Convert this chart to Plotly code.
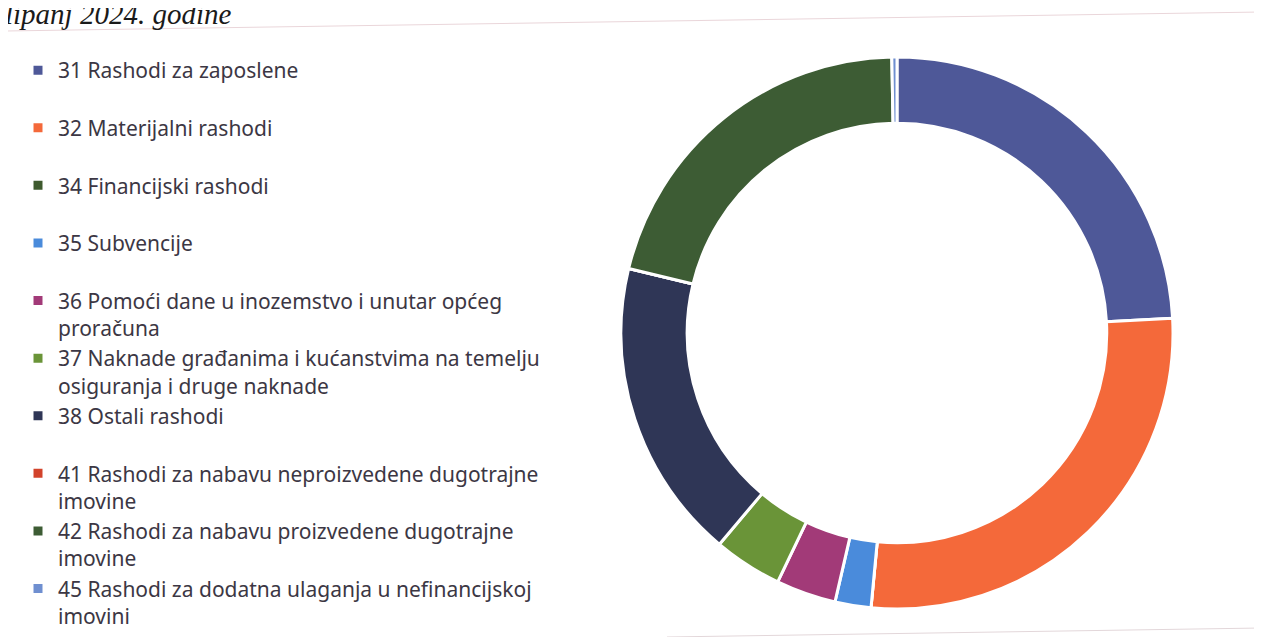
import plotly.graph_objects as go

W, H = 1262, 637
OFF = 8  # page body margin in front of the figure
FONT_COLOR = "#3C3744"

labels = [
    "31 Rashodi za zaposlene",
    "32 Materijalni rashodi",
    "34 Financijski rashodi",
    "35 Subvencije",
    "36 Pomoći dane u inozemstvo i unutar općeg<br>proračuna",
    "37 Naknade građanima i kućanstvima na temelju<br>osiguranja i druge naknade",
    "38 Ostali rashodi",
    "41 Rashodi za nabavu neproizvedene dugotrajne<br>imovine",
    "42 Rashodi za nabavu proizvedene dugotrajne<br>imovine",
    "45 Rashodi za dodatna ulaganja u nefinancijskoj<br>imovini",
]
shares = [24.1, 27.3, 0.0, 2.1, 3.5, 4.0, 17.6, 0.0, 20.9, 0.3]
colors = ["#4E5898", "#F4693A", "#3E5A2E", "#4A8BDB", "#A23A78",
          "#6A9438", "#2F3656", "#D2432B", "#3D5C34", "#6F8FD0"]

# single-line entries get an empty second line so every legend slot is equal
legend_labels = [l if "<br>" in l else l + "<br> " for l in labels]


def px_x(v):
    # page pixel -> paper fraction
    return (v - OFF) / W


def px_y(v):
    return 1 - (v - OFF) / H


fig = go.Figure(go.Pie(
    labels=legend_labels,
    values=shares,
    marker=dict(colors=colors, line=dict(color="white", width=3)),
    hole=0.76,
    sort=False,
    direction="clockwise",
    rotation=0,
    textinfo="none",
    hovertemplate="%{label}: %{value}%<extra></extra>",
    domain=dict(x=[px_x(621), px_x(1173)], y=[px_y(609), px_y(57)]),
))

fig.update_layout(
    width=W,
    height=H,
    paper_bgcolor="white",
    plot_bgcolor="white",
    margin=dict(l=0, r=0, t=0, b=0),
    font=dict(family="Noto Sans", color=FONT_COLOR, size=21),
    showlegend=True,
    legend=dict(
        x=px_x(18), y=px_y(50), xanchor="left", yanchor="top",
        valign="top",
        font=dict(size=21, color=FONT_COLOR),
        bgcolor="rgba(0,0,0,0)",
        itemclick=False,
    ),
    shapes=[
        dict(type="line", xref="paper", yref="paper",
             x0=px_x(6), y0=px_y(31), x1=px_x(1262), y1=px_y(12),
             line=dict(color="#EAD6DA", width=1)),
        dict(type="line", xref="paper", yref="paper",
             x0=px_x(667), y0=px_y(637), x1=px_x(1262), y1=px_y(628),
             line=dict(color="#E3D7DA", width=1)),
    ],
    annotations=[dict(
        text="lipanj 2024. godine",
        xref="paper", yref="paper",
        x=px_x(3), y=px_y(32), xanchor="left", yanchor="bottom",
        showarrow=False,
        font=dict(family="Liberation Serif", size=29, color="#1A1A1A", style="italic"),
    )],
)

fig.write_html("out.html")
